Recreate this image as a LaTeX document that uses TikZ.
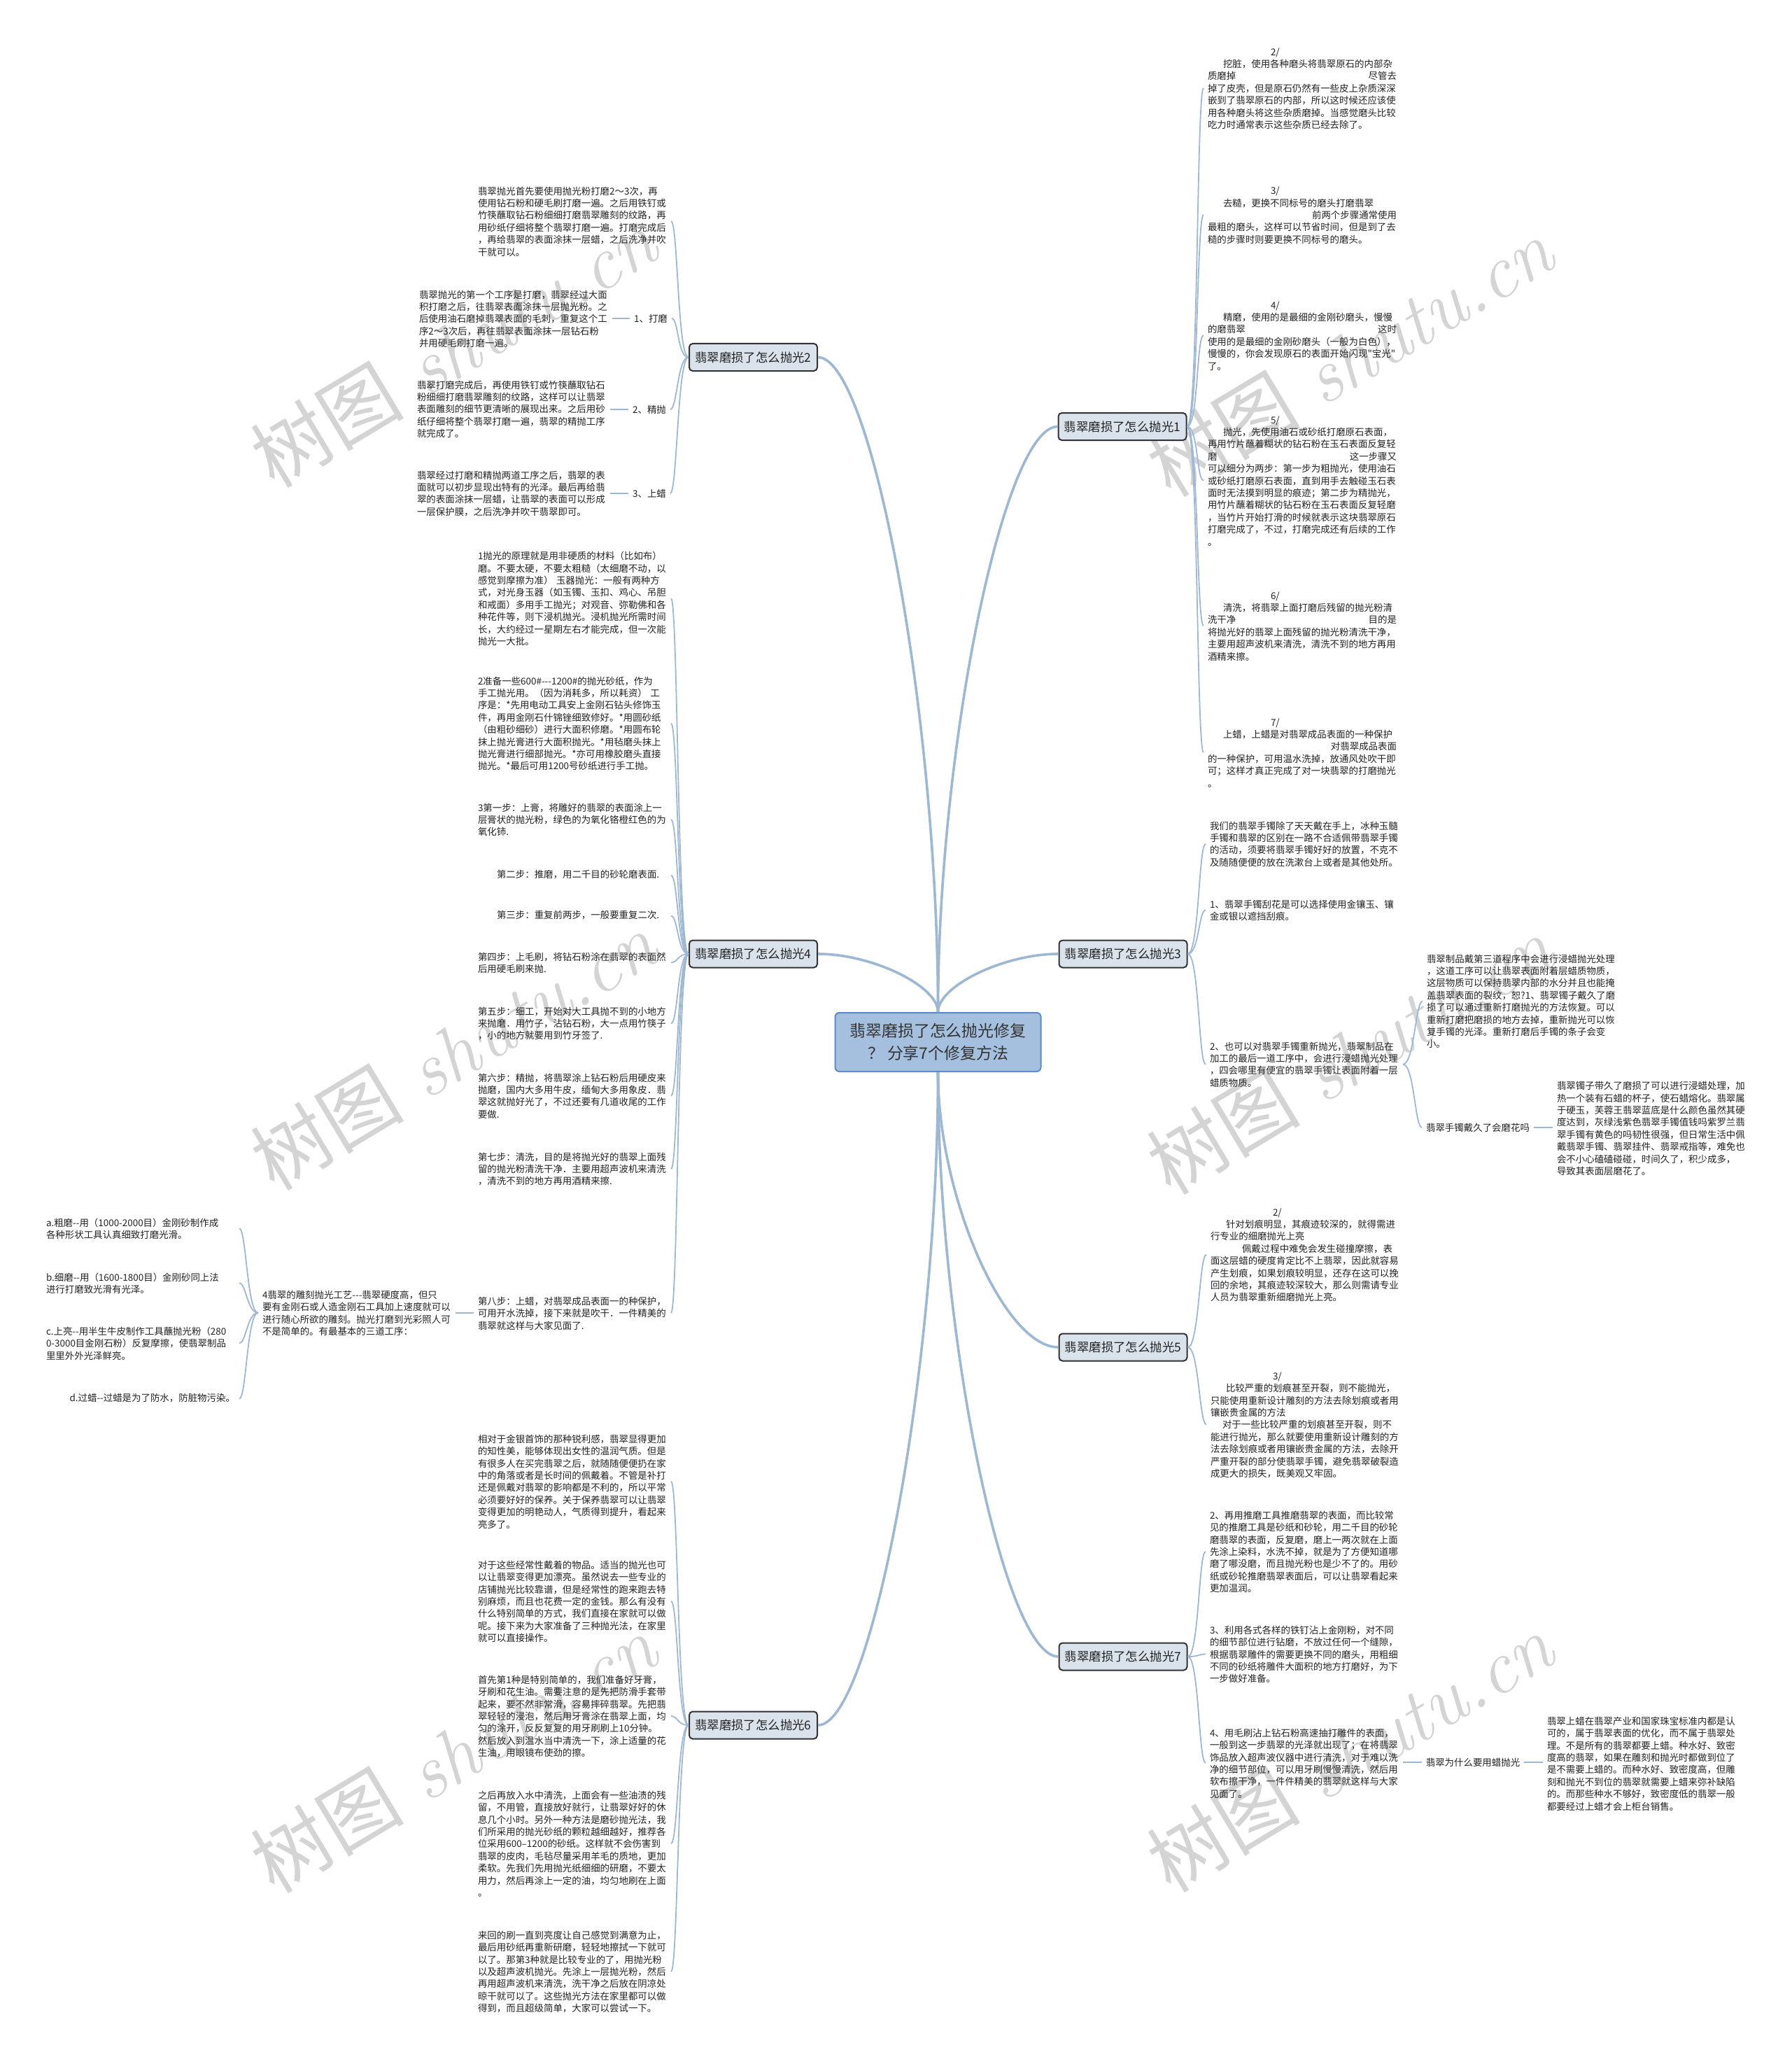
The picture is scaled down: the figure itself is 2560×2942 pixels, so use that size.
\documentclass[tikz,border=0pt]{standalone}
\usepackage{fontspec}
\newfontfamily\cjk{Noto Sans CJK SC}
\usetikzlibrary{calc}
\definecolor{lineblue}{HTML}{9DB8D4}
\definecolor{boxfill}{HTML}{DAE3EC}
\definecolor{cfill}{HTML}{A4C0DE}
\definecolor{cborder}{HTML}{5C8BC6}
\definecolor{ink}{HTML}{222222}
\definecolor{wmgray}{HTML}{D4D4D4}
\newcommand\bodyfont{\cjk\fontsize{6.72pt}{8.7pt}\selectfont}
\begin{document}
\begin{tikzpicture}[x=0.5pt,y=-0.5pt,
 txt/.style={inner sep=0pt, outer sep=3pt, anchor=north west, xshift=-3pt, yshift=3pt, align=left, text width=135pt, font=\bodyfont, text=ink, execute at begin node=\strut},
 lbl/.style={inner sep=0pt, outer sep=3pt, font=\bodyfont, text=ink},
 branch/.style={draw=black!80, line width=1pt, fill=boxfill, rounded corners=2.5pt, minimum width=91.5pt, minimum height=19.5pt, inner sep=0pt, font=\cjk\fontsize{8.7pt}{10pt}\selectfont, text=ink},
 root/.style={draw=cborder, line width=1pt, fill=cfill, rounded corners=3pt, minimum width=147pt, minimum height=42pt, inner sep=0pt, align=center, font=\cjk\fontsize{11.45pt}{16pt}\selectfont, text=black!80},
 mainline/.style={draw=lineblue, line width=1.8pt},
 subline/.style={draw=lineblue, line width=0.9pt},
 fan/.style={out=0,in=180,out distance=8pt,in distance=5pt},
 fanl/.style={out=180,in=0,out distance=8pt,in distance=5pt},
 wm/.style={rotate=31, text=wmgray, font=\fontsize{55pt}{60pt}\selectfont, inner sep=0pt}]

\fill[white] (0,0) rectangle (2560,2942);
\useasboundingbox (0,0) rectangle (2560,2942);

% watermarks
\node[wm] (w1) at (648,497) {{\cjk 树图} {\itshape shutu.cn}};
\node[wm] (w2) at (648,1501) {{\cjk 树图} {\itshape shutu.cn}};
\node[wm] (w3) at (648,2505) {{\cjk 树图} {\itshape shutu.cn}};
\node[wm] (w4) at (1929,510) {{\cjk 树图} {\itshape shutu.cn}};
\node[wm] (w5) at (1929,1507) {{\cjk 树图} {\itshape shutu.cn}};
\node[wm] (w6) at (1929,2504) {{\cjk 树图} {\itshape shutu.cn}};

% root and branches
\node[root] (m) at (1340.5,1489) {翡翠磨损了怎么抛光修复\\？ 分享7个修复方法};
\node[branch] (b1) at (1604,609.5) {翡翠磨损了怎么抛光1};
\node[branch] (b2) at (1076.5,510.5) {翡翠磨损了怎么抛光2};
\node[branch] (b3) at (1605,1363) {翡翠磨损了怎么抛光3};
\node[branch] (b4) at (1076.5,1363) {翡翠磨损了怎么抛光4};
\node[branch] (b5) at (1605,1925) {翡翠磨损了怎么抛光5};
\node[branch] (b6) at (1076.5,2465) {翡翠磨损了怎么抛光6};
\node[branch] (b7) at (1605,2367) {翡翠磨损了怎么抛光7};

% ---------- branch 1 ----------
\node[txt] (c12) at (1726,67) {\hspace*{45pt}2/\\
\hspace*{11pt}挖脏，使用各种磨头将翡翠原石的内部杂\\
质磨掉\hspace*{\fill}尽管去\hspace*{5pt}\\
掉了皮壳，但是原石仍然有一些皮上杂质深深\\
嵌到了翡翠原石的内部，所以这时候还应该使\\
用各种磨头将这些杂质磨掉。当感觉磨头比较\\
吃力时通常表示这些杂质已经去除了。};
\node[txt] (c13) at (1726,265.5) {\hspace*{45pt}3/\\
\hspace*{11pt}去糙，更换不同标号的磨头打磨翡翠\\
\hspace*{\fill}前两个步骤通常使用\\
最粗的磨头，这样可以节省时间，但是到了去\\
糙的步骤时则要更换不同标号的磨头。};
\node[txt] (c14) at (1726,429) {\hspace*{45pt}4/\\
\hspace*{11pt}精磨，使用的是最细的金刚砂磨头，慢慢\\
的磨翡翠\hspace*{\fill}这时\hspace*{5pt}\\
使用的是最细的金刚砂磨头（一般为白色），\\
慢慢的，你会发现原石的表面开始闪现"宝光"\\
了。};
\node[txt] (c15) at (1726,593) {\hspace*{45pt}5/\\
\hspace*{11pt}抛光，先使用油石或砂纸打磨原石表面，\\
再用竹片蘸着糊状的钻石粉在玉石表面反复轻\\
磨\hspace*{\fill}这一步骤又\hspace*{5pt}\\
可以细分为两步：第一步为粗抛光，使用油石\\
或砂纸打磨原石表面，直到用手去触碰玉石表\\
面时无法摸到明显的痕迹；第二步为精抛光，\\
用竹片蘸着糊状的钻石粉在玉石表面反复轻磨\\
，当竹片开始打滑的时候就表示这块翡翠原石\\
打磨完成了，不过，打磨完成还有后续的工作\\
。};
\node[txt] (c16) at (1726,844) {\hspace*{45pt}6/\\
\hspace*{11pt}清洗，将翡翠上面打磨后残留的抛光粉清\\
洗干净\hspace*{\fill}目的是\hspace*{5pt}\\
将抛光好的翡翠上面残留的抛光粉清洗干净，\\
主要用超声波机来清洗，清洗不到的地方再用\\
酒精来擦。};
\node[txt] (c17) at (1726,1025) {\hspace*{45pt}7/\\
\hspace*{11pt}上蜡，上蜡是对翡翠成品表面的一种保护\\
\hspace*{\fill}对翡翠成品表面\\
的一种保护，可用温水洗掉，放通风处吹干即\\
可；这样才真正完成了对一块翡翠的打磨抛光\\
。};

% ---------- branch 2 ----------
\node[txt] (c2a) at (683,266) {翡翠抛光首先要使用抛光粉打磨2～3次，再\\
使用钻石粉和硬毛刷打磨一遍。之后用铁钉或\\
竹筷蘸取钻石粉细细打磨翡翠雕刻的纹路，再\\
用砂纸仔细将整个翡翠打磨一遍。打磨完成后\\
，再给翡翠的表面涂抹一层蜡，之后洗净并吹\\
干就可以。};
\node[lbl] (l21) at (930,455) {1、打磨};
\node[lbl] (l22) at (928,585) {2、精抛};
\node[lbl] (l23) at (928,705) {3、上蜡};
\node[txt] (c21) at (599,414) {翡翠抛光的第一个工序是打磨，翡翠经过大面\\
积打磨之后，往翡翠表面涂抹一层抛光粉。之\\
后使用油石磨掉翡翠表面的毛刺，重复这个工\\
序2～3次后，再往翡翠表面涂抹一层钻石粉\\
并用硬毛刷打磨一遍。};
\node[txt] (c22) at (596,543) {翡翠打磨完成后，再使用铁钉或竹筷蘸取钻石\\
粉细细打磨翡翠雕刻的纹路，这样可以让翡翠\\
表面雕刻的细节更清晰的展现出来。之后用砂\\
纸仔细将整个翡翠打磨一遍，翡翠的精抛工序\\
就完成了。};
\node[txt] (c23) at (596,672) {翡翠经过打磨和精抛两道工序之后，翡翠的表\\
面就可以初步显现出特有的光泽。最后再给翡\\
翠的表面涂抹一层蜡，让翡翠的表面可以形成\\
一层保护膜，之后洗净并吹干翡翠即可。};

% ---------- branch 4 ----------
\node[txt] (c41) at (683,787.5) {1抛光的原理就是用非硬质的材料（比如布）\\
磨。不要太硬，不要太粗糙（太细磨不动，以\\
感觉到摩擦为准）~玉器抛光：一般有两种方\\
式，对光身玉器（如玉镯、玉扣、鸡心、吊胆\\
和戒面）多用手工抛光；对观音、弥勒佛和各\\
种花件等，则下浸机抛光。浸机抛光所需时间\\
长，大约经过一星期左右才能完成，但一次能\\
抛光一大批。};
\node[txt] (c42) at (683,966) {2准备一些600\#-{}-{}-1200\#的抛光砂纸，作为\\
手工抛光用。（因为消耗多，所以耗资）~工\\
序是：*先用电动工具安上金刚石钻头修饰玉\\
件，再用金刚石什锦锉细致修好。*用圆砂纸\\
（由粗砂细砂）进行大面积修磨。*用圆布轮\\
抹上抛光膏进行大面积抛光。*用毡磨头抹上\\
抛光膏进行细部抛光。*亦可用橡胶磨头直接\\
抛光。*最后可用1200号砂纸进行手工抛。};
\node[txt] (c43) at (683,1147) {3第一步：上膏，将雕好的翡翠的表面涂上一\\
层膏状的抛光粉，绿色的为氧化铬橙红色的为\\
氧化铈.};
\node[txt] (c44) at (683,1242) {\hspace*{13.5pt}第二步：推磨，用二千目的砂轮磨表面.};
\node[txt] (c45) at (683,1300) {\hspace*{13.5pt}第三步：重复前两步，一般要重复二次.};
\node[txt] (c46) at (683,1360) {第四步：上毛刷，将钻石粉涂在翡翠的表面然\\
后用硬毛刷来抛.};
\node[txt] (c47) at (683,1438) {第五步：细工，开始对大工具抛不到的小地方\\
来抛磨．用竹子，沾钻石粉，大一点用竹筷子\\
，小的地方就要用到竹牙签了.};
\node[txt] (c48) at (683,1533) {第六步：精抛，将翡翠涂上钻石粉后用硬皮来\\
抛磨，国内大多用牛皮，缅甸大多用象皮．翡\\
翠这就抛好光了，不过还要有几道收尾的工作\\
要做.};
\node[txt] (c49) at (683,1646) {第七步：清洗，目的是将抛光好的翡翠上面残\\
留的抛光粉清洗干净．主要用超声波机来清洗\\
，清洗不到的地方再用酒精来擦.};
\node[txt] (c410) at (683,1852) {第八步：上蜡，对翡翠成品表面一的种保护，\\
可用开水洗掉，接下来就是吹干．一件精美的\\
翡翠就这样与大家见面了.};
\node[txt] (c411) at (375,1843) {4翡翠的雕刻抛光工艺-{}-{}-翡翠硬度高，但只\\
要有金刚石或人造金刚石工具加上速度就可以\\
进行随心所欲的雕刻。抛光打磨到光彩照人可\\
不是简单的。有最基本的三道工序：};
\node[txt] (ca) at (66,1740) {a.粗磨-{}-用（1000-2000目）金刚砂制作成\\
各种形状工具认真细致打磨光滑。};
\node[txt] (cb) at (66,1818) {b.细磨-{}-用（1600-1800目）金刚砂同上法\\
进行打磨致光滑有光泽。};
\node[txt] (cc) at (66,1895) {c.上亮-{}-用半生牛皮制作工具蘸抛光粉（280\\
0-3000目金刚石粉）反复摩擦，使翡翠制品\\
里里外外光泽鲜亮。};
\node[txt] (cd) at (66,1990) {\hspace*{\fill}d.过蜡-{}-过蜡是为了防水，防脏物污染。};

% ---------- branch 6 ----------
\node[txt] (c61) at (683,2049) {相对于金银首饰的那种锐利感，翡翠显得更加\\
的知性美，能够体现出女性的温润气质。但是\\
有很多人在买完翡翠之后，就随随便便扔在家\\
中的角落或者是长时间的佩戴着。不管是补打\\
还是佩戴对翡翠的影响都是不利的，所以平常\\
必须要好好的保养。关于保养翡翠可以让翡翠\\
变得更加的明艳动人，气质得到提升，看起来\\
亮多了。};
\node[txt] (c62) at (683,2229) {对于这些经常性戴着的物品。适当的抛光也可\\
以让翡翠变得更加漂亮。虽然说去一些专业的\\
店铺抛光比较靠谱，但是经常性的跑来跑去特\\
别麻烦，而且也花费一定的金钱。那么有没有\\
什么特别简单的方式，我们直接在家就可以做\\
呢。接下来为大家准备了三种抛光法，在家里\\
就可以直接操作。};
\node[txt] (c63) at (683,2393) {首先第1种是特别简单的，我们准备好牙膏，\\
牙刷和花生油。需要注意的是先把防滑手套带\\
起来，要不然非常滑，容易摔碎翡翠。先把翡\\
翠轻轻的浸泡，然后用牙膏涂在翡翠上面，均\\
匀的涂开，反反复复的用牙刷刷上10分钟。\\
然后放入到温水当中清洗一下，涂上适量的花\\
生油，用眼镜布使劲的擦。};
\node[txt] (c64) at (683,2558) {之后再放入水中清洗，上面会有一些油渍的残\\
留，不用管，直接放好就行，让翡翠好好的休\\
息几个小时。另外一种方法是磨砂抛光法，我\\
们所采用的抛光砂纸的颗粒越细越好，推荐各\\
位采用600–1200的砂纸。这样就不会伤害到\\
翡翠的皮肉，毛毡尽量采用羊毛的质地，更加\\
柔软。先我们先用抛光纸细细的研磨，不要太\\
用力，然后再涂上一定的油，均匀地刷在上面\\
。};
\node[txt] (c65) at (683,2758) {来回的刷一直到亮度让自己感觉到满意为止，\\
最后用砂纸再重新研磨，轻轻地擦拭一下就可\\
以了。那第3种就是比较专业的了，用抛光粉\\
以及超声波机抛光。先涂上一层抛光粉，然后\\
再用超声波机来清洗，洗干净之后放在阴凉处\\
晾干就可以了。这些抛光方法在家里都可以做\\
得到，而且超级简单，大家可以尝试一下。};

% ---------- branch 3 ----------
\node[txt] (c31) at (1729,1173) {我们的翡翠手镯除了天天戴在手上，冰种玉髓\\
手镯和翡翠的区别在一路不合适佩带翡翠手镯\\
的活动，须要将翡翠手镯好好的放置，不克不\\
及随随便便的放在洗漱台上或者是其他处所。};
\node[txt] (c32) at (1729,1285) {1、翡翠手镯刮花是可以选择使用金镶玉、镶\\
金或银以遮挡刮痕。};
\node[txt] (c33) at (1729,1488) {2、也可以对翡翠手镯重新抛光，翡翠制品在\\
加工的最后一道工序中，会进行浸蜡抛光处理\\
，四会哪里有便宜的翡翠手镯让表面附着一层\\
蜡质物质。};
\node[txt] (c33a) at (2039,1363) {翡翠制品戴第三道程序中会进行浸蜡抛光处理\\
，这道工序可以让翡翠表面附着层蜡质物质，\\
这层物质可以保持翡翠内部的水分并且也能掩\\
盖翡翠表面的裂纹，恕?1、翡翠镯子戴久了磨\\
损了可以通过重新打磨抛光的方法恢复。可以\\
重新打磨把磨损的地方去掉，重新抛光可以恢\\
复手镯的光泽。重新打磨后手镯的条子会变\\
小。};
\node[lbl] (l33b) at (2112,1611) {翡翠手镯戴久了会磨花吗};
\node[txt] (c33b) at (2225,1544.5) {翡翠镯子带久了磨损了可以进行浸蜡处理，加\\
热一个装有石蜡的杯子，使石蜡熔化。翡翠属\\
于硬玉，芙蓉王翡翠蓝底是什么颜色虽然其硬\\
度达到，灰绿浅紫色翡翠手镯值钱吗紫罗兰翡\\
翠手镯有黄色的吗韧性很强，但日常生活中佩\\
戴翡翠手镯、翡翠挂件、翡翠戒指等，难免也\\
会不小心磕磕碰碰，时间久了，积少成多，\\
导致其表面层磨花了。};

% ---------- branch 5 ----------
\node[txt] (c51) at (1730,1725) {\hspace*{44.5pt}2/\\
\hspace*{11pt}针对划痕明显，其痕迹较深的，就得需进\\
行专业的细磨抛光上亮\\
\hspace*{22.5pt}佩戴过程中难免会发生碰撞摩擦，表\\
面这层蜡的硬度肯定比不上翡翠，因此就容易\\
产生划痕，如果划痕较明显，还存在这可以挽\\
回的余地，其痕迹较深较大，那么则需请专业\\
人员为翡翠重新细磨抛光上亮。};
\node[txt] (c52) at (1730,1959) {\hspace*{44.5pt}3/\\
\hspace*{11pt}比较严重的划痕甚至开裂，则不能抛光，\\
只能使用重新设计雕刻的方法去除划痕或者用\\
镶嵌贵金属的方法\\
\hspace*{8.5pt}对于一些比较严重的划痕甚至开裂，则不\\
能进行抛光，那么就要使用重新设计雕刻的方\\
法去除划痕或者用镶嵌贵金属的方法，去除开\\
严重开裂的部分使翡翠手镯，避免翡翠破裂造\\
成更大的损失，既美观又牢固。};

% ---------- branch 7 ----------
\node[txt] (c71) at (1729,2158) {2、再用推磨工具推磨翡翠的表面，而比较常\\
见的推磨工具是砂纸和砂轮，用二千目的砂轮\\
磨翡翠的表面，反复磨，磨上一两次就在上面\\
先涂上染料，水洗不掉，就是为了方便知道哪\\
磨了哪没磨，而且抛光粉也是少不了的。用砂\\
纸或砂轮推磨翡翠表面后，可以让翡翠看起来\\
更加温润。};
\node[txt] (c72) at (1729,2322) {3、利用各式各样的铁钉沾上金刚粉，对不同\\
的细节部位进行钻磨，不放过任何一个缝隙，\\
根据翡翠雕件的需要更换不同的磨头，用粗细\\
不同的砂纸将雕件大面积的地方打磨好，为下\\
一步做好准备。};
\node[txt] (c73) at (1729,2469) {4、用毛刷沾上钻石粉高速抽打雕件的表面，\\
一般到这一步翡翠的光泽就出现了；在将翡翠\\
饰品放入超声波仪器中进行清洗，对于难以洗\\
净的细节部位，可以用牙刷慢慢清洗，然后用\\
软布擦干净，一件件精美的翡翠就这样与大家\\
见面了。};
\node[lbl] (l7) at (2105,2518) {翡翠为什么要用蜡抛光};
\node[txt] (c74) at (2211,2452) {翡翠上蜡在翡翠产业和国家珠宝标准内都是认\\
可的，属于翡翠表面的优化，而不属于翡翠处\\
理。不是所有的翡翠都要上蜡。种水好、致密\\
度高的翡翠，如果在雕刻和抛光时都做到位了\\
是不需要上蜡的。而种水好、致密度高，但雕\\
刻和抛光不到位的翡翠就需要上蜡来弥补缺陷\\
的。而那些种水不够好，致密度低的翡翠一般\\
都要经过上蜡才会上柜台销售。};

% ---------- main connectors ----------
\foreach \b in {b1,b3} {
  \draw[mainline] (m.north) .. controls ($(m.north)!0.45!(m.north|-\b.west)$) and ($(\b.west)!0.45!(m.north|-\b.west)$) .. (\b.west);
}
\foreach \b in {b2,b4} {
  \draw[mainline] (m.north) .. controls ($(m.north)!0.45!(m.north|-\b.east)$) and ($(\b.east)!0.45!(m.north|-\b.east)$) .. (\b.east);
}
\foreach \b in {b5,b7} {
  \draw[mainline] (m.south) .. controls ($(m.south)!0.45!(m.south|-\b.west)$) and ($(\b.west)!0.45!(m.south|-\b.west)$) .. (\b.west);
}
\draw[mainline] (m.south) .. controls ($(m.south)!0.45!(m.south|-b6.east)$) and ($(b6.east)!0.45!(m.south|-b6.east)$) .. (b6.east);

% ---------- sub connectors ----------
\foreach \c in {c12,c13,c14,c15,c16,c17} { \draw[subline] (b1.east) to[fan] (\c.west); }
\foreach \c in {c2a,l21,l22,l23} { \draw[subline] (b2.west) to[fanl] (\c.east); }
\draw[subline] (l21.west -| c21.east) -- (l21.west);
\draw[subline] (l22.west -| c22.east) -- (l22.west);
\draw[subline] (l23.west -| c23.east) -- (l23.west);
\foreach \c in {c41,c42,c43,c44,c45,c46,c47,c48,c49,c410} { \draw[subline] (b4.west) to[fanl] (\c.east); }
\draw[subline] (c410.west) -- (c410.west -| c411.east);
\foreach \c in {ca,cb,cc,cd} { \draw[subline] (c411.west) to[fanl] (\c.east); }
\foreach \c in {c61,c62,c63,c64,c65} { \draw[subline] (b6.west) to[fanl] (\c.east); }
\foreach \c in {c31,c32,c33} { \draw[subline] (b3.east) to[fan] (\c.west); }
\draw[subline] (c33.east) to[fan] (c33a.west);
\draw[subline] (c33.east) to[fan] (l33b.west);
\draw[subline] (l33b.east) -- (l33b.east -| c33b.west);
\foreach \c in {c51,c52} { \draw[subline] (b5.east) to[fan] (\c.west); }
\foreach \c in {c71,c72,c73} { \draw[subline] (b7.east) to[fan] (\c.west); }
\draw[subline] (l7.west -| c73.east) -- (l7.west);
\draw[subline] (l7.east) -- (l7.east -| c74.west);
\end{tikzpicture}
\end{document}
